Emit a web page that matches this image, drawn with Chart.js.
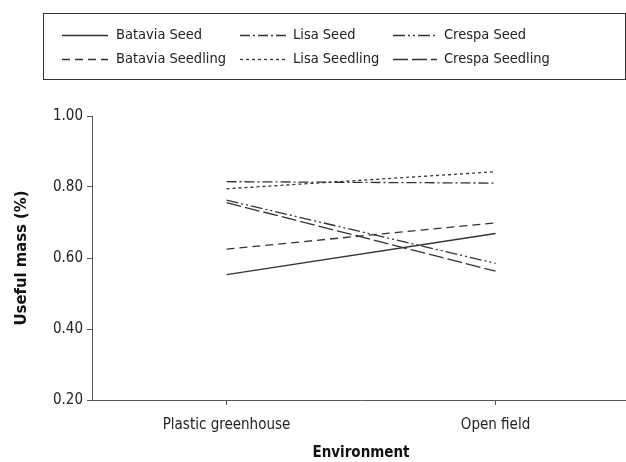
<!DOCTYPE html>
<html>
<head>
<meta charset="utf-8">
<script src="https://cdn.jsdelivr.net/npm/chart.js@4"></script>
<style>
  html, body { margin: 0; padding: 0; background: #fff; overflow: hidden; }
  #wrap { width: 626px; height: 462px; overflow: hidden; }
</style>
</head>
<body>
<div id="wrap"><canvas id="chart" width="630" height="462"></canvas></div>
<script>
/* data */
const environments = ["Plastic greenhouse", "Open field"];
const yTicks = [0.2, 0.4, 0.6, 0.8, 1.0];

const bataviaSeed = [0.553, 0.669];
const bataviaSeedling = [0.625, 0.699];
const lisaSeed = [0.815, 0.811];
const lisaSeedling = [0.795, 0.843];
const crespaSeed = [0.763, 0.585];
const crespaSeedling = [0.756, 0.563];

const FONT = "'DejaVu Sans Condensed', 'Liberation Sans Narrow', 'Liberation Sans', sans-serif";
const INK = "#333";

function series(label, data, dash) {
  return {
    label, data, borderDash: dash,
    borderColor: INK, borderWidth: 1.3,
    pointRadius: 0, fill: false, tension: 0
  };
}

const datasets = [
  series("Batavia Seed", bataviaSeed, []),
  series("Lisa Seed", lisaSeed, [10, 3, 2, 3]),
  series("Crespa Seed", crespaSeed, [12, 3, 2, 3, 2, 3]),
  series("Batavia Seedling", bataviaSeedling, [8, 5]),
  series("Lisa Seedling", lisaSeedling, [3, 3]),
  series("Crespa Seedling", crespaSeedling, [15, 4])
];

/* legend in a box, 3 columns x 2 rows */
const boxLegend = {
  id: "boxLegend",
  afterDraw(chart) {
    const ctx = chart.ctx;
    ctx.save();
    ctx.strokeStyle = INK;
    ctx.lineWidth = 1;
    ctx.strokeRect(43.5, 13.5, 582, 66);
    const cols = [
      { x0: 62, x1: 108, tx: 116 },
      { x0: 240, x1: 287, tx: 293 },
      { x0: 393, x1: 437, tx: 444 }
    ];
    const rows = [35, 59];
    ctx.font = "14.5px " + FONT;
    ctx.textBaseline = "middle";
    ctx.fillStyle = "#222";
    chart.data.datasets.forEach((ds, i) => {
      const c = cols[i % 3];
      const y = rows[Math.floor(i / 3)] + 0.5;
      ctx.beginPath();
      ctx.setLineDash(ds.borderDash);
      ctx.lineWidth = ds.borderWidth;
      ctx.strokeStyle = ds.borderColor;
      ctx.moveTo(c.x0, y);
      ctx.lineTo(c.x1, y);
      ctx.stroke();
      ctx.setLineDash([]);
      ctx.fillText(ds.label, c.tx, y);
    });
    ctx.restore();
  }
};

new Chart(document.getElementById("chart"), {
  type: "line",
  data: { labels: environments, datasets },
  plugins: [boxLegend],
  options: {
    responsive: false,
    animation: false,
    layout: { padding: { top: 116, right: 0, bottom: 0, left: 0 } },
    plugins: { legend: { display: false }, tooltip: { enabled: false } },
    scales: {
      x: {
        offset: true,
        border: { color: "#555", width: 1 },
        grid: { drawOnChartArea: false, tickLength: 5, color: "#555" },
        ticks: { color: "#222", font: { family: FONT, size: 15 }, padding: 11, maxRotation: 0 },
        title: {
          display: true, text: "Environment", color: "#111",
          font: { family: FONT, size: 15, weight: "bold" }, padding: { top: 4, bottom: 0 }
        },
        afterFit(scale) { scale.height = 62; }
      },
      y: {
        min: 0.2, max: 1.0,
        border: { color: "#555", width: 1 },
        grid: { drawOnChartArea: false, tickLength: 5, color: "#555" },
        afterBuildTicks(scale) { scale.ticks = yTicks.map(v => ({ value: v })); },
        ticks: {
          color: "#222", font: { family: FONT, size: 15 }, padding: 4,
          callback: v => Number(v).toFixed(2)
        },
        title: {
          display: true, text: "Useful mass (%)", color: "#111",
          font: { family: FONT, size: 16.5, weight: "bold" }, padding: { top: 12, bottom: 0 }
        },
        afterFit(scale) { scale.width = 92; }
      }
    }
  }
});
</script>
</body>
</html>
